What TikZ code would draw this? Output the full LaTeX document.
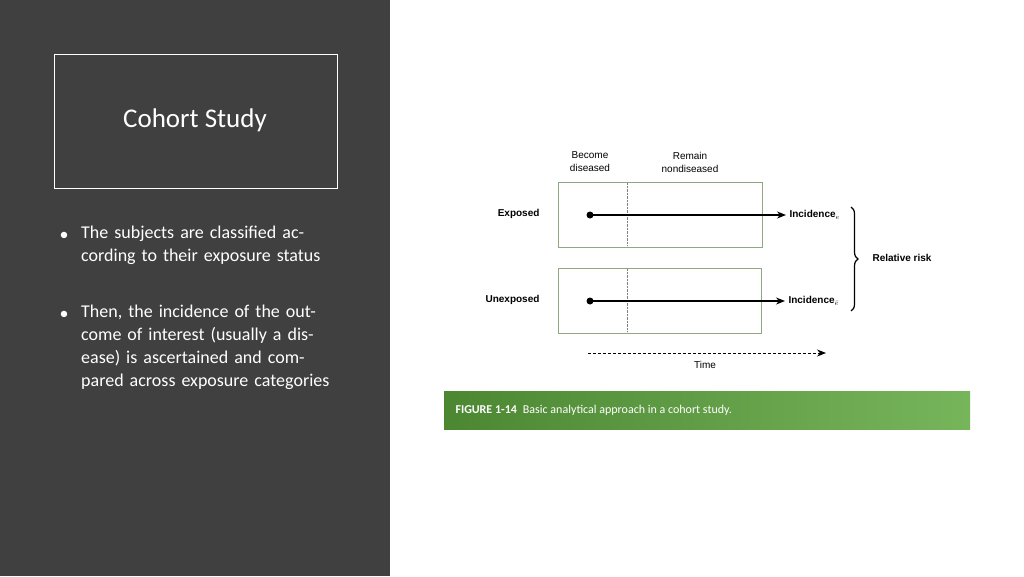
\documentclass[tikz,border=0pt]{standalone}
\usepackage{fontspec}
\setmainfont{Carlito}
\newfontfamily\figfont{Liberation Sans}
\usetikzlibrary{arrows.meta, positioning, decorations.pathreplacing}
\definecolor{panelgray}{HTML}{404040}
\definecolor{boxgreen}{HTML}{8FA882}
\definecolor{capgreen}{HTML}{5FA83E}
\tikzset{bullet/.style={anchor=north west, text width=250pt, align=left, font=\fontsize{18}{23}\selectfont, text=white, inner sep=0pt}}
\tikzset{grpbox/.style={draw=boxgreen, line width=1pt}}
\tikzset{figlabel/.style={font=\figfont\bfseries\fontsize{10}{12}\selectfont}}
\tikzset{fighead/.style={font=\figfont\fontsize{10}{13}\selectfont, align=center}}
\tikzset{arrow/.style={line width=1.2pt, -{Stealth[length=9pt,width=7pt]}}}
\begin{document}
\begin{tikzpicture}[x=1pt, y=-1pt]
		\useasboundingbox (0,0) rectangle (1024,576);
		\fill[white] (0,0) rectangle (1024,576);
		\fill[panelgray] (0,0) rectangle (390,576);
		\node(titlebox)[draw=white, line width=1pt, minimum width=283pt, minimum height=134pt] at (195.5,121){};
		\node(title)[text=white, font=\fontsize{27}{30}\selectfont] at (195,120){Cohort Study};
		
		\node(bull1)[bullet] at (81,226){The subjects are classified according to their exposure status};
		\node(bull2)[bullet] at (81,305){Then, the incidence of the outcome of interest (usually a disease) is ascertained and compared across exposure categories};
		\node[text=white, font=\fontsize{18}{23}\selectfont] at (64,236){\textbullet};
		\node[text=white, font=\fontsize{18}{23}\selectfont] at (64,315){\textbullet};
		
		% exposure groups
		\node(expbox)[grpbox, minimum width=204pt, minimum height=65pt, inner sep=0pt] at (660,214.5){};
		\node(unexpbox)[grpbox, minimum width=203pt, minimum height=65pt, inner sep=0pt] at (659.5,300.5){};
		\draw[densely dotted, gray] (627,183) -- (627,246);
		\draw[densely dotted, gray] (627,269) -- (627,332);
		
		\node(become)[fighead] at (590,162){Become\\diseased};
		\node(remain)[fighead] at (690,162){Remain\\nondiseased};
		\node(exposed)[figlabel, anchor=east] at (543,214){Exposed};
		\node(unexposed)[figlabel, anchor=east] at (543,300){Unexposed};
		
		\coordinate(expstart) at (590,215);
		\coordinate(unexpstart) at (590,301);
		\node(incexp)[figlabel, anchor=west] at (786,215){Incidence$_{e}$};
		\node(incunexp)[figlabel, anchor=west] at (785,301){Incidence$_{\bar e}$};
		\fill (expstart) circle (3.5pt);
		\fill (unexpstart) circle (3.5pt);
		\draw[arrow] (expstart) -- (incexp.west);
		\draw[arrow] (unexpstart) -- (incunexp.west);
		
		\draw[line width=1.2pt, decorate, decoration={brace, amplitude=7pt}] (851,207) -- (851,311);
		\node(relrisk)[figlabel, anchor=west] at (869,258){Relative risk};
		
		\coordinate(timestart) at (588,353);
		\coordinate(timeend) at (826,353);
		\draw[densely dashed, line width=1pt, -{Stealth[length=9pt,width=7pt]}] (timestart) -- (timeend);
		\node(time)[fighead] at (705,365){Time};
		
		% caption bar
		\shade[left color=capgreen!80!black, right color=capgreen!85!white] (444,391) rectangle (970,429);
		\node(caption)[anchor=west, text=white, font=\fontsize{12}{14}\selectfont] at (452,410){\textbf{FIGURE 1-14}\enspace Basic analytical approach in a cohort study.};
	\end{tikzpicture}
\end{document}
